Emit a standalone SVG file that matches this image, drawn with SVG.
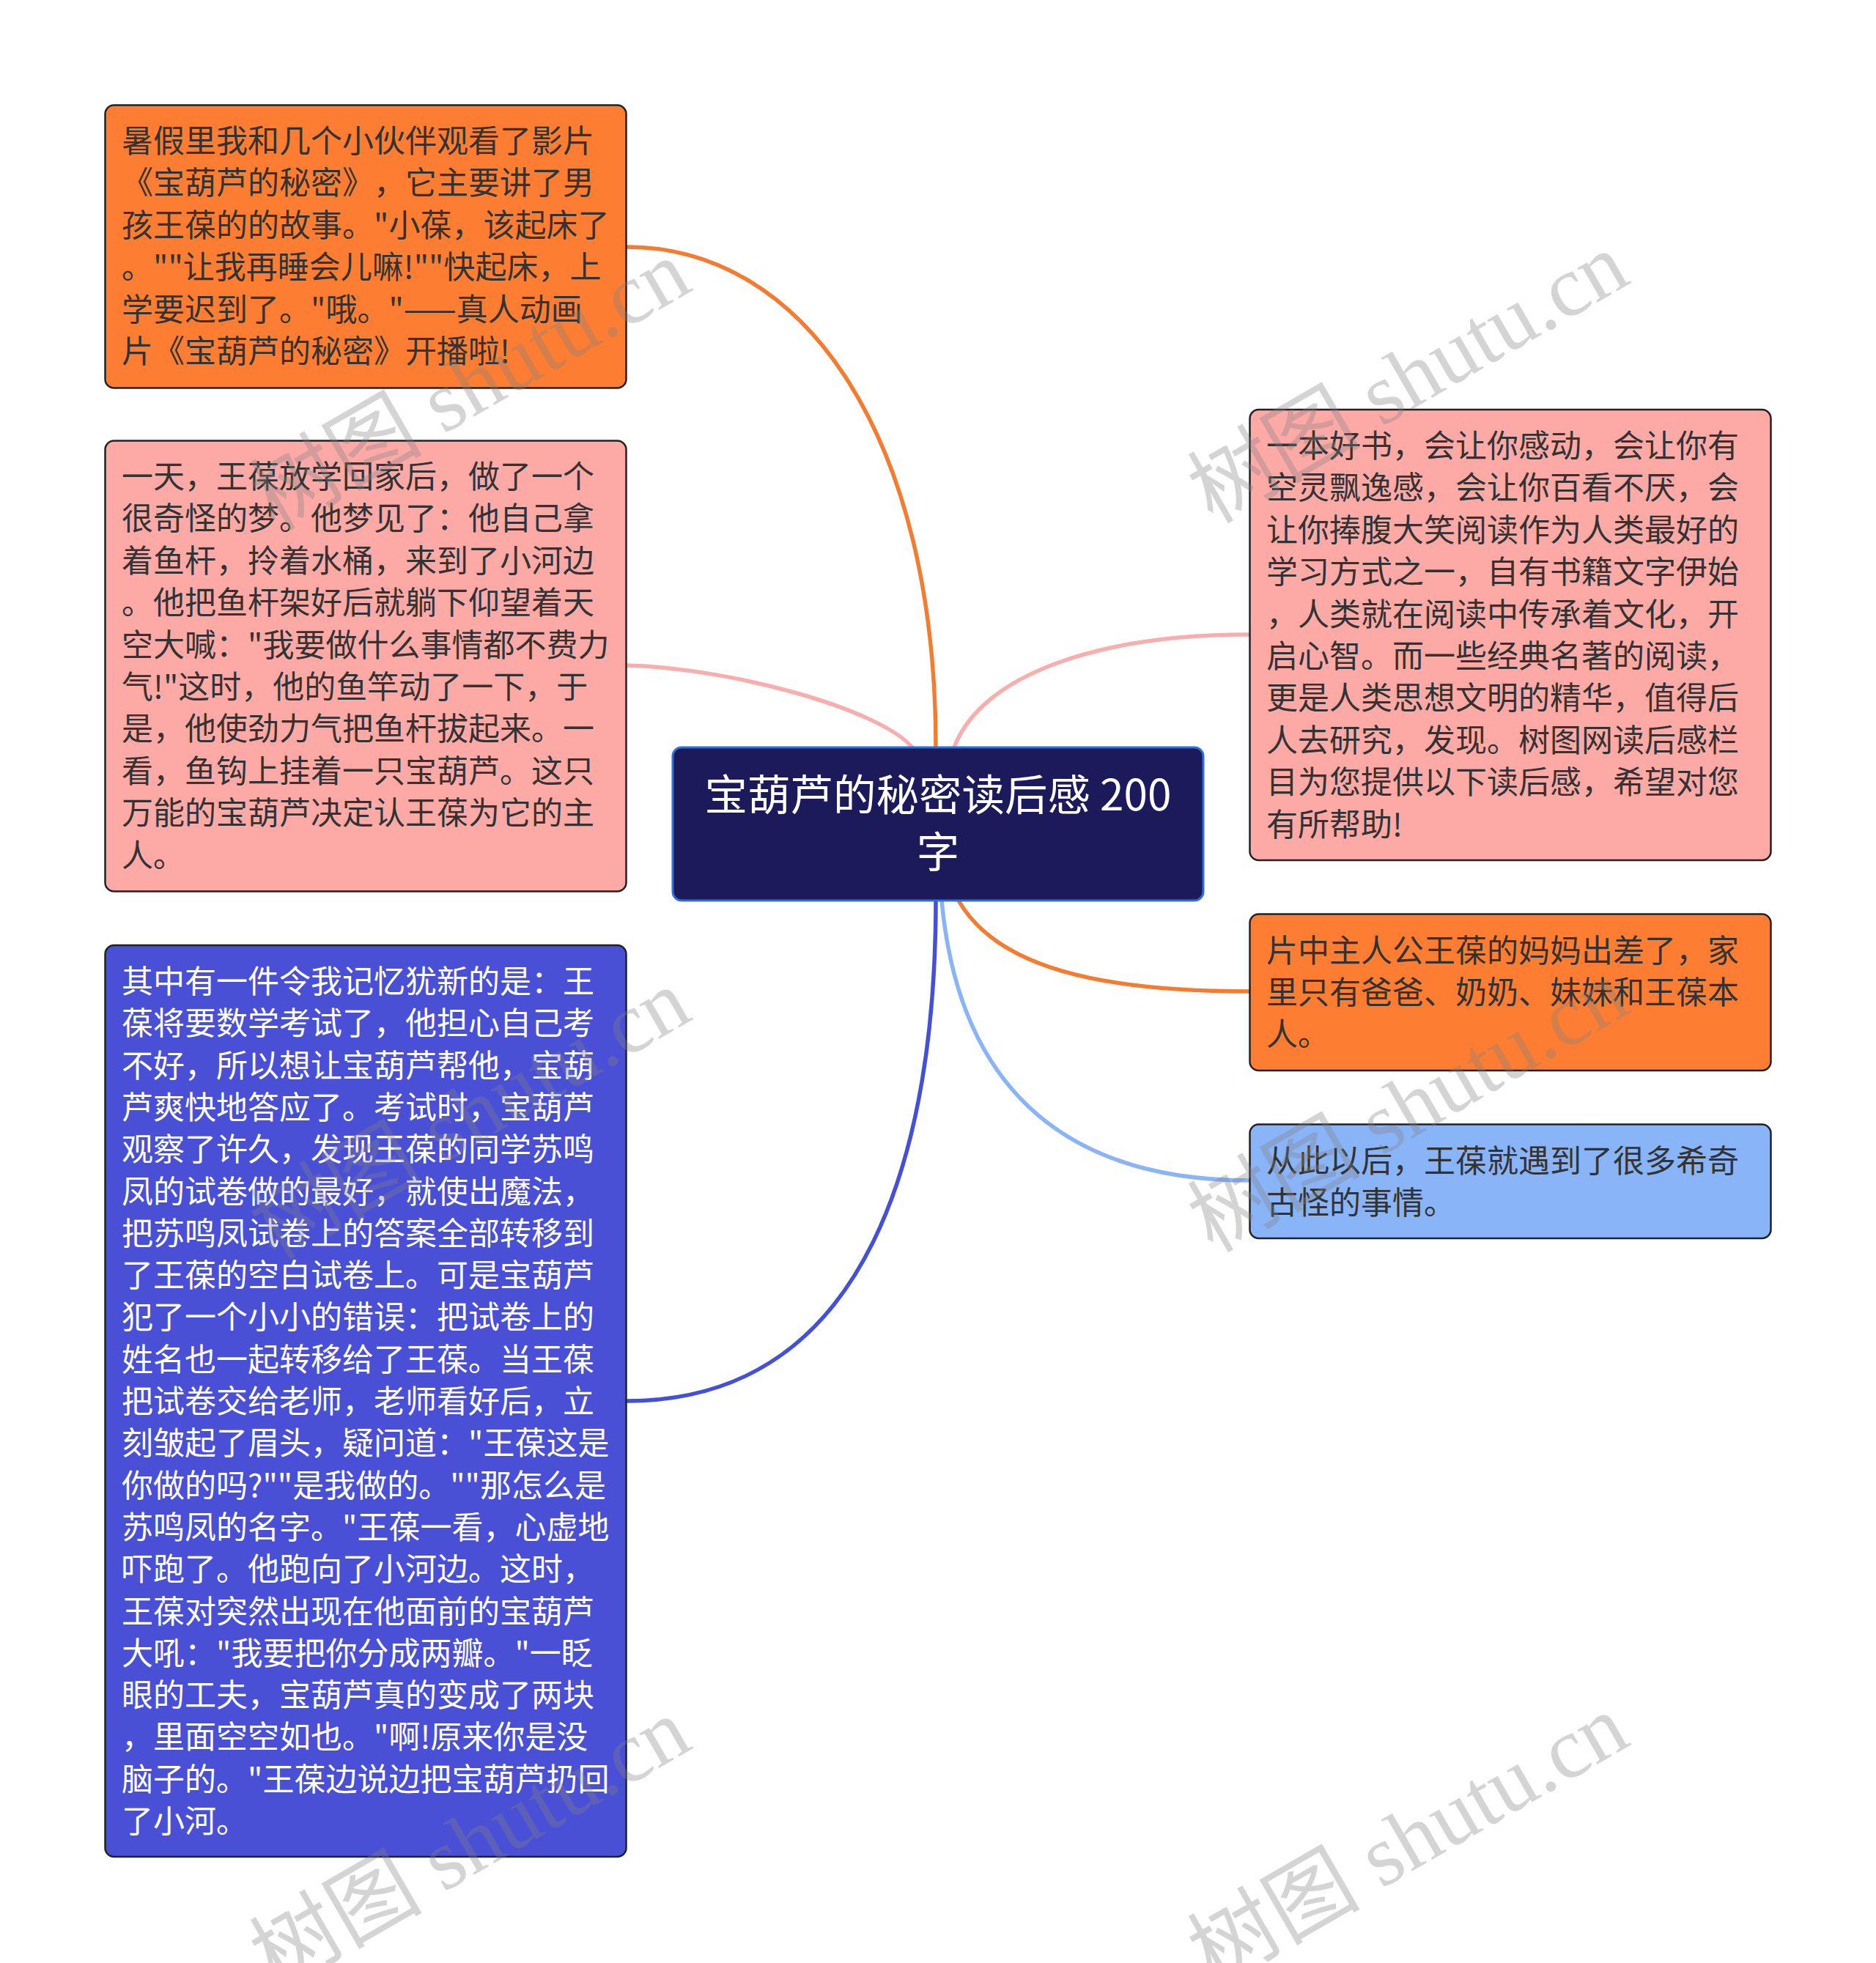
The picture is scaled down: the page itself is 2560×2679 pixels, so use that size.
<svg xmlns="http://www.w3.org/2000/svg" width="2560" height="2679" viewBox="0 0 2560 2679">
<style>
.bg{fill:#ffffff}
.box{stroke:#222222;stroke-width:2.5}
.orange{fill:#fd7e33}
.pink{fill:#fdaaa7}
.blue{fill:#4950d5}
.lblue{fill:#8ab4f8}
.t{font-family:"Noto Sans CJK SC","Noto Sans",sans-serif;font-size:43px;fill:#333333;text-spacing-trim:space-all}
.tw{fill:#ffffff}
.title{font-family:"Noto Sans CJK SC","Noto Sans",sans-serif;font-size:58.5px;fill:#ffffff;text-anchor:middle}
.c{fill:none;stroke-width:5.5;stroke-linecap:round}
.wm{font-family:"Liberation Serif","Noto Sans CJK SC",serif;font-size:118px;fill:#808080;fill-opacity:0.34;text-anchor:middle}
</style>
<rect class="bg" x="0" y="0" width="2560" height="2679"/>
<g id="connectors">
<path class="c" stroke="#f47c30" d="M855 337 C1100 337 1277 600 1277 1020"/>
<path class="c" stroke="#f8aeac" d="M855 908 C1000 912 1200 968 1245 1020"/>
<path class="c" stroke="#f8aeac" d="M1302 1020 C1340 920 1500 866 1705 866"/>
<path class="c" stroke="#f47c30" d="M1308 1229 C1360 1320 1500 1353 1705 1353"/>
<path class="c" stroke="#8ab4f8" d="M1285 1229 C1310 1500 1470 1611 1705 1611"/>
<path class="c" stroke="#4450d5" d="M1277 1229 C1277 1560 1190 1912 855 1912"/>
</g>
<g id="center">
<rect x="918" y="1020" width="724" height="209" rx="12" fill="#1c1a5b" stroke="#2f6fd8" stroke-width="3"/>
<text class="title"><tspan x="1280" y="1106">宝葫芦的秘密读后感 200</tspan><tspan x="1280" y="1184">字</tspan></text>
</g>
<g id="node-left-1">
<rect class="box orange" x="143.5" y="143.5" width="711" height="386" rx="12"/>
<text class="t">
<tspan x="166" y="208">暑假里我和几个小伙伴观看了影片</tspan>
<tspan x="166" y="265.4">《宝葫芦的秘密》，它主要讲了男</tspan>
<tspan x="166" y="322.8">孩王葆的的故事。"小葆，该起床了</tspan>
<tspan x="166" y="380.2">。""让我再睡会儿嘛!""快起床，上</tspan>
<tspan x="166" y="437.6">学要迟到了。"哦。"——真人动画</tspan>
<tspan x="166" y="495">片《宝葫芦的秘密》开播啦!</tspan>
</text>
</g>
<g id="node-left-2">
<rect class="box pink" x="143.5" y="601.5" width="711" height="615" rx="12"/>
<text class="t">
<tspan x="166" y="666">一天，王葆放学回家后，做了一个</tspan>
<tspan x="166" y="723.4">很奇怪的梦。他梦见了：他自己拿</tspan>
<tspan x="166" y="780.8">着鱼杆，拎着水桶，来到了小河边</tspan>
<tspan x="166" y="838.2">。他把鱼杆架好后就躺下仰望着天</tspan>
<tspan x="166" y="895.6">空大喊："我要做什么事情都不费力</tspan>
<tspan x="166" y="953">气!"这时，他的鱼竿动了一下，于</tspan>
<tspan x="166" y="1010.4">是，他使劲力气把鱼杆拔起来。一</tspan>
<tspan x="166" y="1067.8">看，鱼钩上挂着一只宝葫芦。这只</tspan>
<tspan x="166" y="1125.2">万能的宝葫芦决定认王葆为它的主</tspan>
<tspan x="166" y="1182.6">人。</tspan>
</text>
</g>
<g id="node-left-3">
<rect class="box blue" x="143.5" y="1290" width="711" height="1244" rx="12"/>
<text class="t tw">
<tspan x="166" y="1355">其中有一件令我记忆犹新的是：王</tspan>
<tspan x="166" y="1412.3">葆将要数学考试了，他担心自己考</tspan>
<tspan x="166" y="1469.6">不好，所以想让宝葫芦帮他，宝葫</tspan>
<tspan x="166" y="1526.9">芦爽快地答应了。考试时，宝葫芦</tspan>
<tspan x="166" y="1584.2">观察了许久，发现王葆的同学苏鸣</tspan>
<tspan x="166" y="1641.5">凤的试卷做的最好，就使出魔法，</tspan>
<tspan x="166" y="1698.8">把苏鸣凤试卷上的答案全部转移到</tspan>
<tspan x="166" y="1756.1">了王葆的空白试卷上。可是宝葫芦</tspan>
<tspan x="166" y="1813.4">犯了一个小小的错误：把试卷上的</tspan>
<tspan x="166" y="1870.7">姓名也一起转移给了王葆。当王葆</tspan>
<tspan x="166" y="1928">把试卷交给老师，老师看好后，立</tspan>
<tspan x="166" y="1985.3">刻皱起了眉头，疑问道："王葆这是</tspan>
<tspan x="166" y="2042.6">你做的吗?""是我做的。""那怎么是</tspan>
<tspan x="166" y="2099.9">苏鸣凤的名字。"王葆一看，心虚地</tspan>
<tspan x="166" y="2157.2">吓跑了。他跑向了小河边。这时，</tspan>
<tspan x="166" y="2214.5">王葆对突然出现在他面前的宝葫芦</tspan>
<tspan x="166" y="2271.8">大吼："我要把你分成两瓣。"一眨</tspan>
<tspan x="166" y="2329.1">眼的工夫，宝葫芦真的变成了两块</tspan>
<tspan x="166" y="2386.4">，里面空空如也。"啊!原来你是没</tspan>
<tspan x="166" y="2443.7">脑子的。"王葆边说边把宝葫芦扔回</tspan>
<tspan x="166" y="2501">了小河。</tspan>
</text>
</g>
<g id="node-right-1">
<rect class="box pink" x="1705.5" y="559" width="711" height="615" rx="12"/>
<text class="t">
<tspan x="1728" y="624">一本好书，会让你感动，会让你有</tspan>
<tspan x="1728" y="681.4">空灵飘逸感，会让你百看不厌，会</tspan>
<tspan x="1728" y="738.8">让你捧腹大笑阅读作为人类最好的</tspan>
<tspan x="1728" y="796.2">学习方式之一，自有书籍文字伊始</tspan>
<tspan x="1728" y="853.6">，人类就在阅读中传承着文化，开</tspan>
<tspan x="1728" y="911">启心智。而一些经典名著的阅读，</tspan>
<tspan x="1728" y="968.4">更是人类思想文明的精华，值得后</tspan>
<tspan x="1728" y="1025.8">人去研究，发现。树图网读后感栏</tspan>
<tspan x="1728" y="1083.2">目为您提供以下读后感，希望对您</tspan>
<tspan x="1728" y="1140.6">有所帮助!</tspan>
</text>
</g>
<g id="node-right-2">
<rect class="box orange" x="1705.5" y="1247.5" width="711" height="213.5" rx="12"/>
<text class="t">
<tspan x="1728" y="1312.5">片中主人公王葆的妈妈出差了，家</tspan>
<tspan x="1728" y="1369.9">里只有爸爸、奶奶、妹妹和王葆本</tspan>
<tspan x="1728" y="1427.3">人。</tspan>
</text>
</g>
<g id="node-right-3">
<rect class="box lblue" x="1705.5" y="1534.5" width="711" height="155.5" rx="12"/>
<text class="t">
<tspan x="1728" y="1600">从此以后，王葆就遇到了很多希奇</tspan>
<tspan x="1728" y="1657.4">古怪的事情。</tspan>
</text>
</g>
<g id="watermarks">
<text class="wm" x="644" y="565" transform="rotate(-30 644 530)">树图 shutu.cn</text>
<text class="wm" x="1924" y="555" transform="rotate(-30 1924 520)">树图 shutu.cn</text>
<text class="wm" x="644" y="1560" transform="rotate(-30 644 1525)">树图 shutu.cn</text>
<text class="wm" x="1924" y="1550" transform="rotate(-30 1924 1515)">树图 shutu.cn</text>
<text class="wm" x="644" y="2555" transform="rotate(-30 644 2520)">树图 shutu.cn</text>
<text class="wm" x="1924" y="2550" transform="rotate(-30 1924 2515)">树图 shutu.cn</text>
</g>
</svg>
